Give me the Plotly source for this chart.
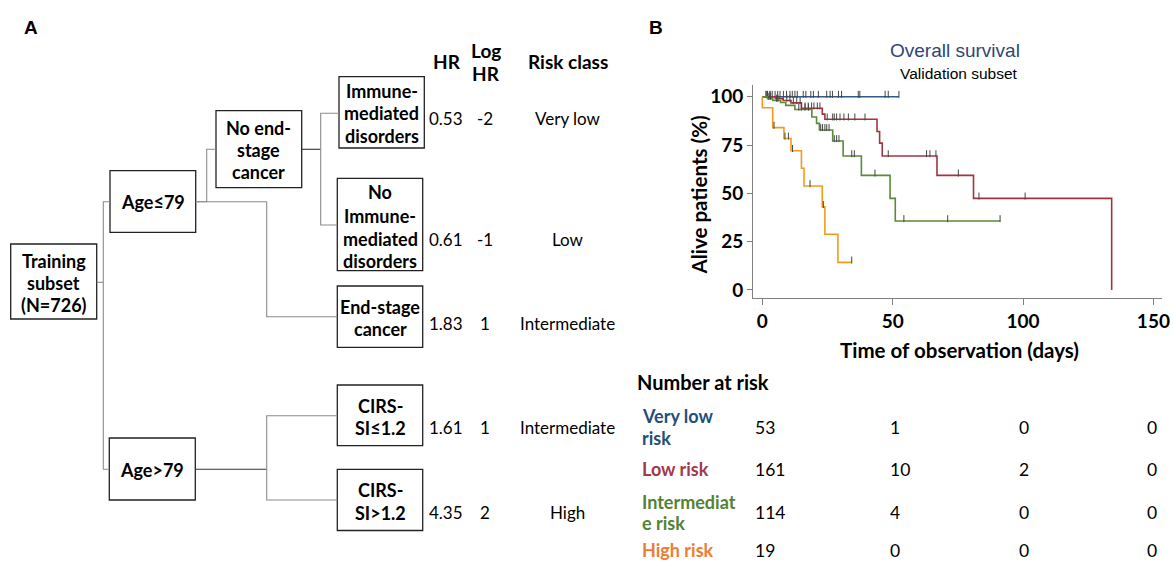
import plotly.graph_objects as go

W, H = 1173, 563

# ---------------- Data ----------------
vlow_last = 52.4
vlow_censor = [1.4, 2.0, 2.9, 3.8, 4.9, 5.9, 6.8, 8.1, 9.3, 10.6, 11.5, 12.5, 13.4, 15.7,
               16.7, 18.6, 19.6, 21.5, 24.7, 26.0, 26.9, 29.2, 30.4, 36.8, 37.4, 47.1, 48.3, 52.4]

low_t = [5, 8, 11, 15, 23, 24, 44, 45, 46, 67, 81, 134]
low_s = [99, 98, 96.8, 94, 91, 88.3, 82, 76, 69.3, 59.3, 47.4, 0]
low_censor = [1.5, 3, 9.4, 10.6, 11.9, 13.2, 14.5, 16.4, 17.6, 18.9, 19.8, 21.1, 22.1, 24.9,
              27, 27.6, 28.5, 29.8, 31.3, 33, 35.5, 39.4, 48.3, 63, 64.3, 66.6, 75.2, 83.1, 100.8]

int_t = [2, 4, 7, 9, 12.5, 19, 20.8, 21.9, 27, 31, 38, 49, 51]
int_s = [99, 98, 97, 95.5, 93.4, 89.5, 86.2, 82.8, 77.1, 69.3, 59.3, 47.4, 35.7]
int_last = 91.2
int_censor = [2.5, 3.2, 5.5, 6, 14, 15, 16.4, 17.7, 22.4, 23.1, 24, 24.7, 25.6, 27.6, 28.5,
              29.4, 34.3, 35.3, 43.2, 54.3, 71.1, 91.2]

high_t = [0, 4, 8.3, 11, 15, 16, 23, 24, 29]
high_s = [94.3, 84, 78.4, 72, 63, 53.8, 43, 28.8, 14.3]
high_last = 34.3
high_censor = [4.5, 8.7, 10, 11.6, 18.3, 23.4, 34.3]

x_ticks = [0, 50, 100, 150]
y_ticks = [0, 25, 50, 75, 100]

risk_groups = [["Very low", "risk"], ["Low risk"], ["Intermediat", "e risk"], ["High risk"]]
n_at_risk = [[53, 1, 0, 0], [161, 10, 2, 0], [114, 4, 0, 0], [19, 0, 0, 0]]

root_label = ["Training", "subset", "(N=726)"]
node_labels = {
    "age_le": ["Age≤79"],
    "age_gt": ["Age>79"],
    "no_end": ["No end-", "stage", "cancer"],
}
leaf_labels = [["Immune-", "mediated", "disorders"],
               ["No", "Immune-", "mediated", "disorders"],
               ["End-stage", "cancer"],
               ["CIRS-", "SI≤1.2"],
               ["CIRS-", "SI>1.2"]]
hr = ["0.53", "0.61", "1.83", "1.61", "4.35"]
log_hr = ["-2", "-1", "1", "1", "2"]
risk_class = ["Very low", "Low", "Intermediate", "Intermediate", "High"]

# ---------------- Styles ----------------
C_BLUE = "#2F5A8A"
C_RED = "#A3343F"
C_GREEN = "#5A8A36"
C_ORANGE = "#F39A1E"
curve_colors = [C_BLUE, C_RED, C_GREEN, C_ORANGE]
label_colors = ["#1F4E79", "#A0394A", "#548235", "#ED7D31"]
FONT = "Lato"


def px(x):
    return x / W


def py(y):
    return 1 - y / H


def surv_at(t, times, survs):
    s = 100
    for ti, si in zip(times, survs):
        if ti <= t:
            s = si
    return s


fig = go.Figure()

curves = [
    ([], [], vlow_last, vlow_censor),
    (low_t, low_s, low_t[-1], low_censor),
    (int_t, int_s, int_last, int_censor),
    (high_t, high_s, high_last, high_censor),
]
for (ts, ss, last, cens), col in zip(curves, curve_colors):
    xs = [0] + list(ts)
    ys = [100] + list(ss)
    if last > xs[-1]:
        xs.append(last)
        ys.append(ys[-1])
    fig.add_trace(go.Scatter(x=xs, y=ys, mode="lines", line=dict(color=col, width=1.6, shape="hv"),
                             showlegend=False, hoverinfo="skip"))
    cy = [surv_at(c, ts, ss) + 1.2 for c in cens]
    fig.add_trace(go.Scatter(x=cens, y=cy, mode="markers",
                             marker=dict(symbol="line-ns", size=5, line=dict(color="#444", width=1)),
                             showlegend=False, hoverinfo="skip"))

ax_l, ax_r, ax_t, ax_b = 753, 1162, 85, 298.3
fig.update_layout(
    width=W, height=H, margin=dict(l=0, r=0, t=0, b=0, pad=0),
    paper_bgcolor="white", plot_bgcolor="white",
    xaxis=dict(domain=[px(ax_l), px(ax_r)], range=[-3.57, 153.3], tickvals=x_ticks,
               showgrid=False, zeroline=False, showline=True, linecolor="#808080", linewidth=1,
               ticks="outside", ticklen=6, tickcolor="#808080", automargin=False,
               tickfont=dict(family=FONT, size=19, color="black", weight="bold")),
    yaxis=dict(domain=[py(ax_b), py(ax_t)], range=[-4.3, 106.05], tickvals=y_ticks,
               showgrid=False, zeroline=False, showline=True, linecolor="#808080", linewidth=1,
               ticks="outside", ticklen=5, tickcolor="#808080", automargin=False,
               tickfont=dict(family=FONT, size=19, color="black", weight="bold")),
)

ann = []
shapes = []


def text(x, y, s, size=16, bold=False, color="black", anchor="center", family=FONT, angle=0):
    ann.append(dict(x=px(x), y=py(y), xref="paper", yref="paper", text=s, showarrow=False,
                    xanchor=anchor, yanchor="middle", textangle=angle,
                    font=dict(family=family, size=size, color=color,
                              weight="bold" if bold else "normal")))


def box(x0, y0, x1, y1, lines, line_ys, size=18):
    shapes.append(dict(type="rect", xref="paper", yref="paper", x0=px(x0), x1=px(x1),
                       y0=py(y1), y1=py(y0), line=dict(color="#222", width=1.3)))
    for s, yy in zip(lines, line_ys):
        text((x0 + x1) / 2, yy, s, size=size, bold=True)


def seg(pts, color="#8c8c8c", width=1.1):
    path = "M " + " L ".join(f"{px(x)},{py(y)}" for x, y in pts)
    shapes.append(dict(type="path", xref="paper", yref="paper", path=path,
                       line=dict(color=color, width=width)))


text(31, 27, "A", size=19, bold=True, family="Liberation Sans")
text(656, 27, "B", size=19, bold=True, family="Liberation Sans")

box(10.7, 244, 96.7, 319, root_label, [261, 283, 305])
box(110, 170.7, 195.7, 232.3, node_labels["age_le"], [202])
box(109.3, 438, 195.3, 500, node_labels["age_gt"], [470])
box(216, 110.7, 301.7, 187.7, node_labels["no_end"], [127.7, 150, 172.3])
leaf_boxes = [(339, 76.7, 424.3, 148), (337.3, 178.3, 422.7, 270.7), (337.3, 286, 422.7, 347.3),
              (337.3, 385, 422.7, 445.7), (337.3, 469.3, 422.7, 530.5)]
leaf_line_ys = [[90.5, 113, 135.7], [192.3, 215.7, 239, 261], [306.7, 329], [406, 427.5], [490, 512.5]]
for b, lab, ly in zip(leaf_boxes, leaf_labels, leaf_line_ys):
    box(*b, lab, ly)

seg([(96.7, 282.3), (103.3, 282.3)])
seg([(110, 201.7), (103.3, 201.7), (103.3, 469.3), (109.3, 469.3)])
seg([(195.7, 201.7), (206.7, 201.7), (206.7, 149.3), (216, 149.3)])
seg([(195.7, 201.7), (266.7, 201.7), (266.7, 316.7), (337.3, 316.7)])
seg([(301.7, 149.3), (320.7, 149.3)], color="#333")
seg([(339, 113.3), (320.7, 113.3), (320.7, 225), (337.3, 225)])
seg([(195.3, 469.3), (266.7, 469.3)], color="#333")
seg([(337.3, 415.7), (266.7, 415.7), (266.7, 500), (337.3, 500)])

text(446.5, 61.5, "HR", size=19, bold=True)
text(486, 50.5, "Log", size=19, bold=True)
text(486, 73.5, "HR", size=19, bold=True)
text(567.5, 61.5, "Risk class", size=19, bold=True)
value_ys = [118.3, 239.3, 323.5, 427, 512.5]
for h, lh, rc, yy in zip(hr, log_hr, risk_class, value_ys):
    text(445.5, yy, h, size=17)
    text(485, yy, lh, size=17)
    text(567.5, yy, rc, size=17)

text(954.5, 50, "Overall survival", size=19, color="#2E4677", family="Liberation Sans")
text(958.5, 73.5, "Validation subset", size=15.5, family="Liberation Sans")
text(698.5, 195, "Alive patients (%)", size=20.5, bold=True, angle=-90)
text(959, 349.5, "Time of observation (days)", size=20.5, bold=True)

text(635, 382, "Number at risk", size=20, bold=True, anchor="left")
row_label_ys = [[415.7, 437.7], [469.3], [501.7, 523.3], [550]]
row_num_ys = [427.3, 469.3, 512.3, 550]
col_x = [753, 888, 1017, 1145]
for lab, lys, nums, ny, colr in zip(risk_groups, row_label_ys, n_at_risk, row_num_ys, label_colors):
    for s, yy in zip(lab, lys):
        text(639.5, yy, s, size=18, bold=True, color=colr, anchor="left")
    for v, cx in zip(nums, col_x):
        text(cx, ny, str(v), size=17.5, anchor="left")

fig.update_layout(annotations=ann, shapes=shapes)
fig.write_html("out.html", config={"displayModeBar": False},
               post_script="document.body.style.margin='0';document.body.style.overflow='hidden';")
